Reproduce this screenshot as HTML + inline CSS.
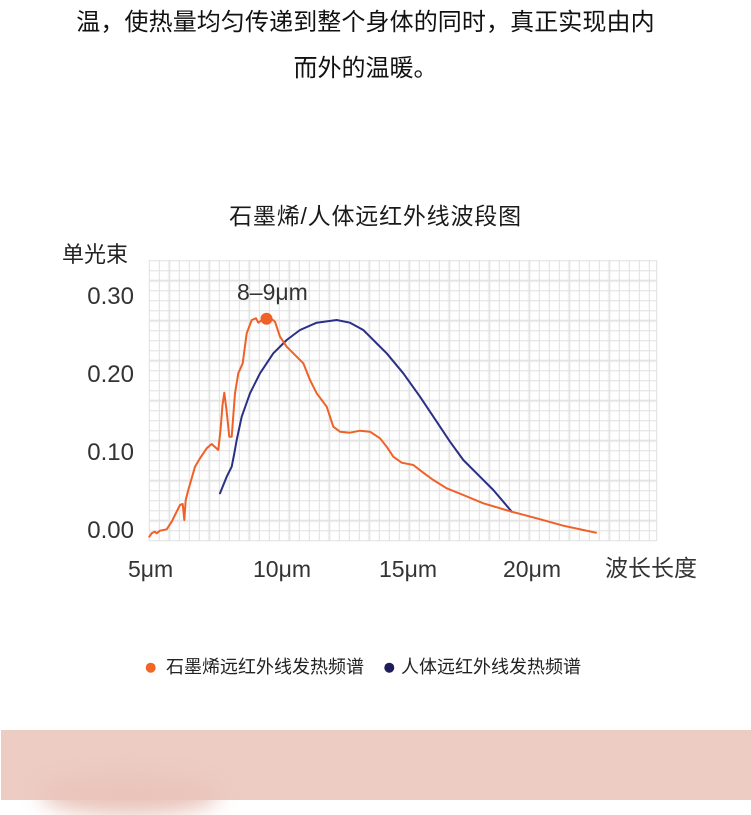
<!DOCTYPE html>
<html><head><meta charset="utf-8">
<style>
html,body{margin:0;padding:0;background:#fff;}
body{width:751px;height:800px;position:relative;overflow:hidden;font-family:"Liberation Sans","Noto Sans CJK SC",sans-serif;color:#222;}
.t{position:absolute;white-space:nowrap;}
</style></head>
<body>
<div class="t" style="left:0;width:731px;top:7px;text-align:center;font-size:24px;line-height:32px;letter-spacing:0.1px;font-family:'Liberation Sans','Noto Sans CJK SC',sans-serif;color:#111;">温，使热量均匀传递到整个身体的同时，真正实现由内</div>
<div class="t" style="left:0;width:731px;top:53px;text-align:center;font-size:24px;line-height:32px;font-family:'Liberation Sans','Noto Sans CJK SC',sans-serif;color:#111;">而外的温暖。</div>

<div class="t" style="left:0;width:751px;top:201px;text-align:center;font-size:23px;line-height:30px;letter-spacing:0.8px;color:#1a1a1a;">石墨烯/人体远红外线波段图</div>

<svg style="position:absolute;left:0;top:0" width="751" height="800" xmlns="http://www.w3.org/2000/svg">
  <g stroke="#f3f3f3" stroke-width="3" fill="none">
    <path d="M169.3 260V541M209.3 260V541M249.3 260V541M289.3 260V541M329.3 260V541M369.3 260V541M409.3 260V541M449.3 260V541M489.3 260V541M529.3 260V541M569.3 260V541M609.3 260V541"/>
    <path d="M149 280.7H657M149 320.7H657M149 360.7H657M149 400.7H657M149 440.7H657M149 480.7H657M149 520.7H657"/>
  </g>
  <g stroke="#e0e0e0" stroke-width="1" fill="none">
    <path d="M149.3 260V541M159.3 260V541M169.3 260V541M179.3 260V541M189.3 260V541M199.3 260V541M209.3 260V541M219.3 260V541M229.3 260V541M239.3 260V541M249.3 260V541M259.3 260V541M269.3 260V541M279.3 260V541M289.3 260V541M299.3 260V541M309.3 260V541M319.3 260V541M329.3 260V541M339.3 260V541M349.3 260V541M359.3 260V541M369.3 260V541M379.3 260V541M389.3 260V541M399.3 260V541M409.3 260V541M419.3 260V541M429.3 260V541M439.3 260V541M449.3 260V541M459.3 260V541M469.3 260V541M479.3 260V541M489.3 260V541M499.3 260V541M509.3 260V541M519.3 260V541M529.3 260V541M539.3 260V541M549.3 260V541M559.3 260V541M569.3 260V541M579.3 260V541M589.3 260V541M599.3 260V541M609.3 260V541M619.3 260V541M629.3 260V541M639.3 260V541M649.3 260V541M656.7 260V541"/>
    <path d="M149 260.7H657M149 270.7H657M149 280.7H657M149 290.7H657M149 300.7H657M149 310.7H657M149 320.7H657M149 330.7H657M149 340.7H657M149 350.7H657M149 360.7H657M149 370.7H657M149 380.7H657M149 390.7H657M149 400.7H657M149 410.7H657M149 420.7H657M149 430.7H657M149 440.7H657M149 450.7H657M149 460.7H657M149 470.7H657M149 480.7H657M149 490.7H657M149 500.7H657M149 510.7H657M149 520.7H657M149 530.7H657M149 540.7H657"/>
  </g>

  <!-- blue curve -->
  <polyline fill="none" stroke="#2b2f86" stroke-width="2" stroke-linejoin="round" stroke-linecap="round"
    points="220,493.3 226.7,476.7 231.7,466.7 234,455 236.7,440 241.7,416.7 250,393.3 260,373.3 273.3,353.3 286.7,340 300,330 316.7,322.7 336.7,320 350,322.7 363.3,330 370,336.7 378.3,345 386.7,353.3 403.3,373.3 420,396.7 436.7,421.7 450,441.7 463.3,460 480,476.7 493.3,490 503.3,501.7 511.7,511.7"/>

  <!-- orange curve -->
  <polyline fill="none" stroke="#ef6128" stroke-width="2" stroke-linejoin="round" stroke-linecap="round"
    points="149.3,536.7 152,533 155,531.7 156.7,533.3 160,530.7 166.7,529.3 171.7,521.7 175,515 180,505 182.7,504 184.3,520 185.7,500 188.3,490 195,466.7 200,458.3 206.7,448.3 211.7,444 218.3,450 220.5,430 222.5,405 224.3,392.7 226.5,410 229.3,436.7 231.7,436.7 235,393.3 238.3,373.3 242.7,363.3 246.7,333.3 251.7,320 256,318.3 258.3,322.7 262,320 266.7,318.7 271,318.5 275,321.7 280,336.7 286.7,346.7 296.7,356.7 303.3,363.3 310,380 316.7,393.3 326.7,406.7 333.3,426.7 340,431.7 350,432.7 360,430.7 370,431.7 380,438.3 386.7,446.7 393.3,456.7 401.7,462.7 413.3,465 423.3,472.7 433.3,480 446.7,488.3 463.3,495 483.3,503.3 511.7,511.7 536.7,518.3 563.3,525.7 583.3,530 596,532.7"/>
  <circle cx="266.5" cy="318.8" r="6" fill="#ef6128"/>

  <!-- legend dots -->
  <circle cx="150.7" cy="667.7" r="5" fill="#f26522"/>
  <circle cx="389.3" cy="667.7" r="5" fill="#1f1c5c"/>
</svg>

<!-- axis labels -->
<div class="t" style="left:62px;top:241px;font-size:22px;line-height:28px;color:#222;">单光束</div>
<div class="t" style="left:60px;width:74px;text-align:right;top:283px;font-size:24px;line-height:28px;color:#333;">0.30</div>
<div class="t" style="left:60px;width:74px;text-align:right;top:361px;font-size:24px;line-height:28px;color:#333;">0.20</div>
<div class="t" style="left:60px;width:74px;text-align:right;top:439px;font-size:24px;line-height:28px;color:#333;">0.10</div>
<div class="t" style="left:60px;width:74px;text-align:right;top:517px;font-size:24px;line-height:28px;color:#333;">0.00</div>
<div class="t" style="left:237px;top:278px;font-size:23px;line-height:28px;color:#333;">8–9μm</div>

<div class="t" style="left:128px;top:555px;font-size:23px;line-height:28px;color:#333;">5μm</div>
<div class="t" style="left:253px;top:555px;font-size:23px;line-height:28px;color:#333;">10μm</div>
<div class="t" style="left:379px;top:555px;font-size:23px;line-height:28px;color:#333;">15μm</div>
<div class="t" style="left:503px;top:555px;font-size:23px;line-height:28px;color:#333;">20μm</div>
<div class="t" style="left:605px;top:554px;font-size:23px;line-height:28px;color:#333;">波长长度</div>

<!-- legend text -->
<div class="t" style="left:166px;top:654px;font-size:18px;line-height:26px;color:#222;">石墨烯远红外线发热频谱</div>
<div class="t" style="left:401px;top:654px;font-size:18px;line-height:26px;color:#222;">人体远红外线发热频谱</div>

<!-- bottom pink block -->
<div style="position:absolute;left:1px;top:730px;width:750px;height:70px;background:#edccc3;"></div>
<div style="position:absolute;left:40px;top:775px;width:180px;height:40px;border-radius:50%;background:#e9c4ba;filter:blur(10px);"></div>
</body></html>
